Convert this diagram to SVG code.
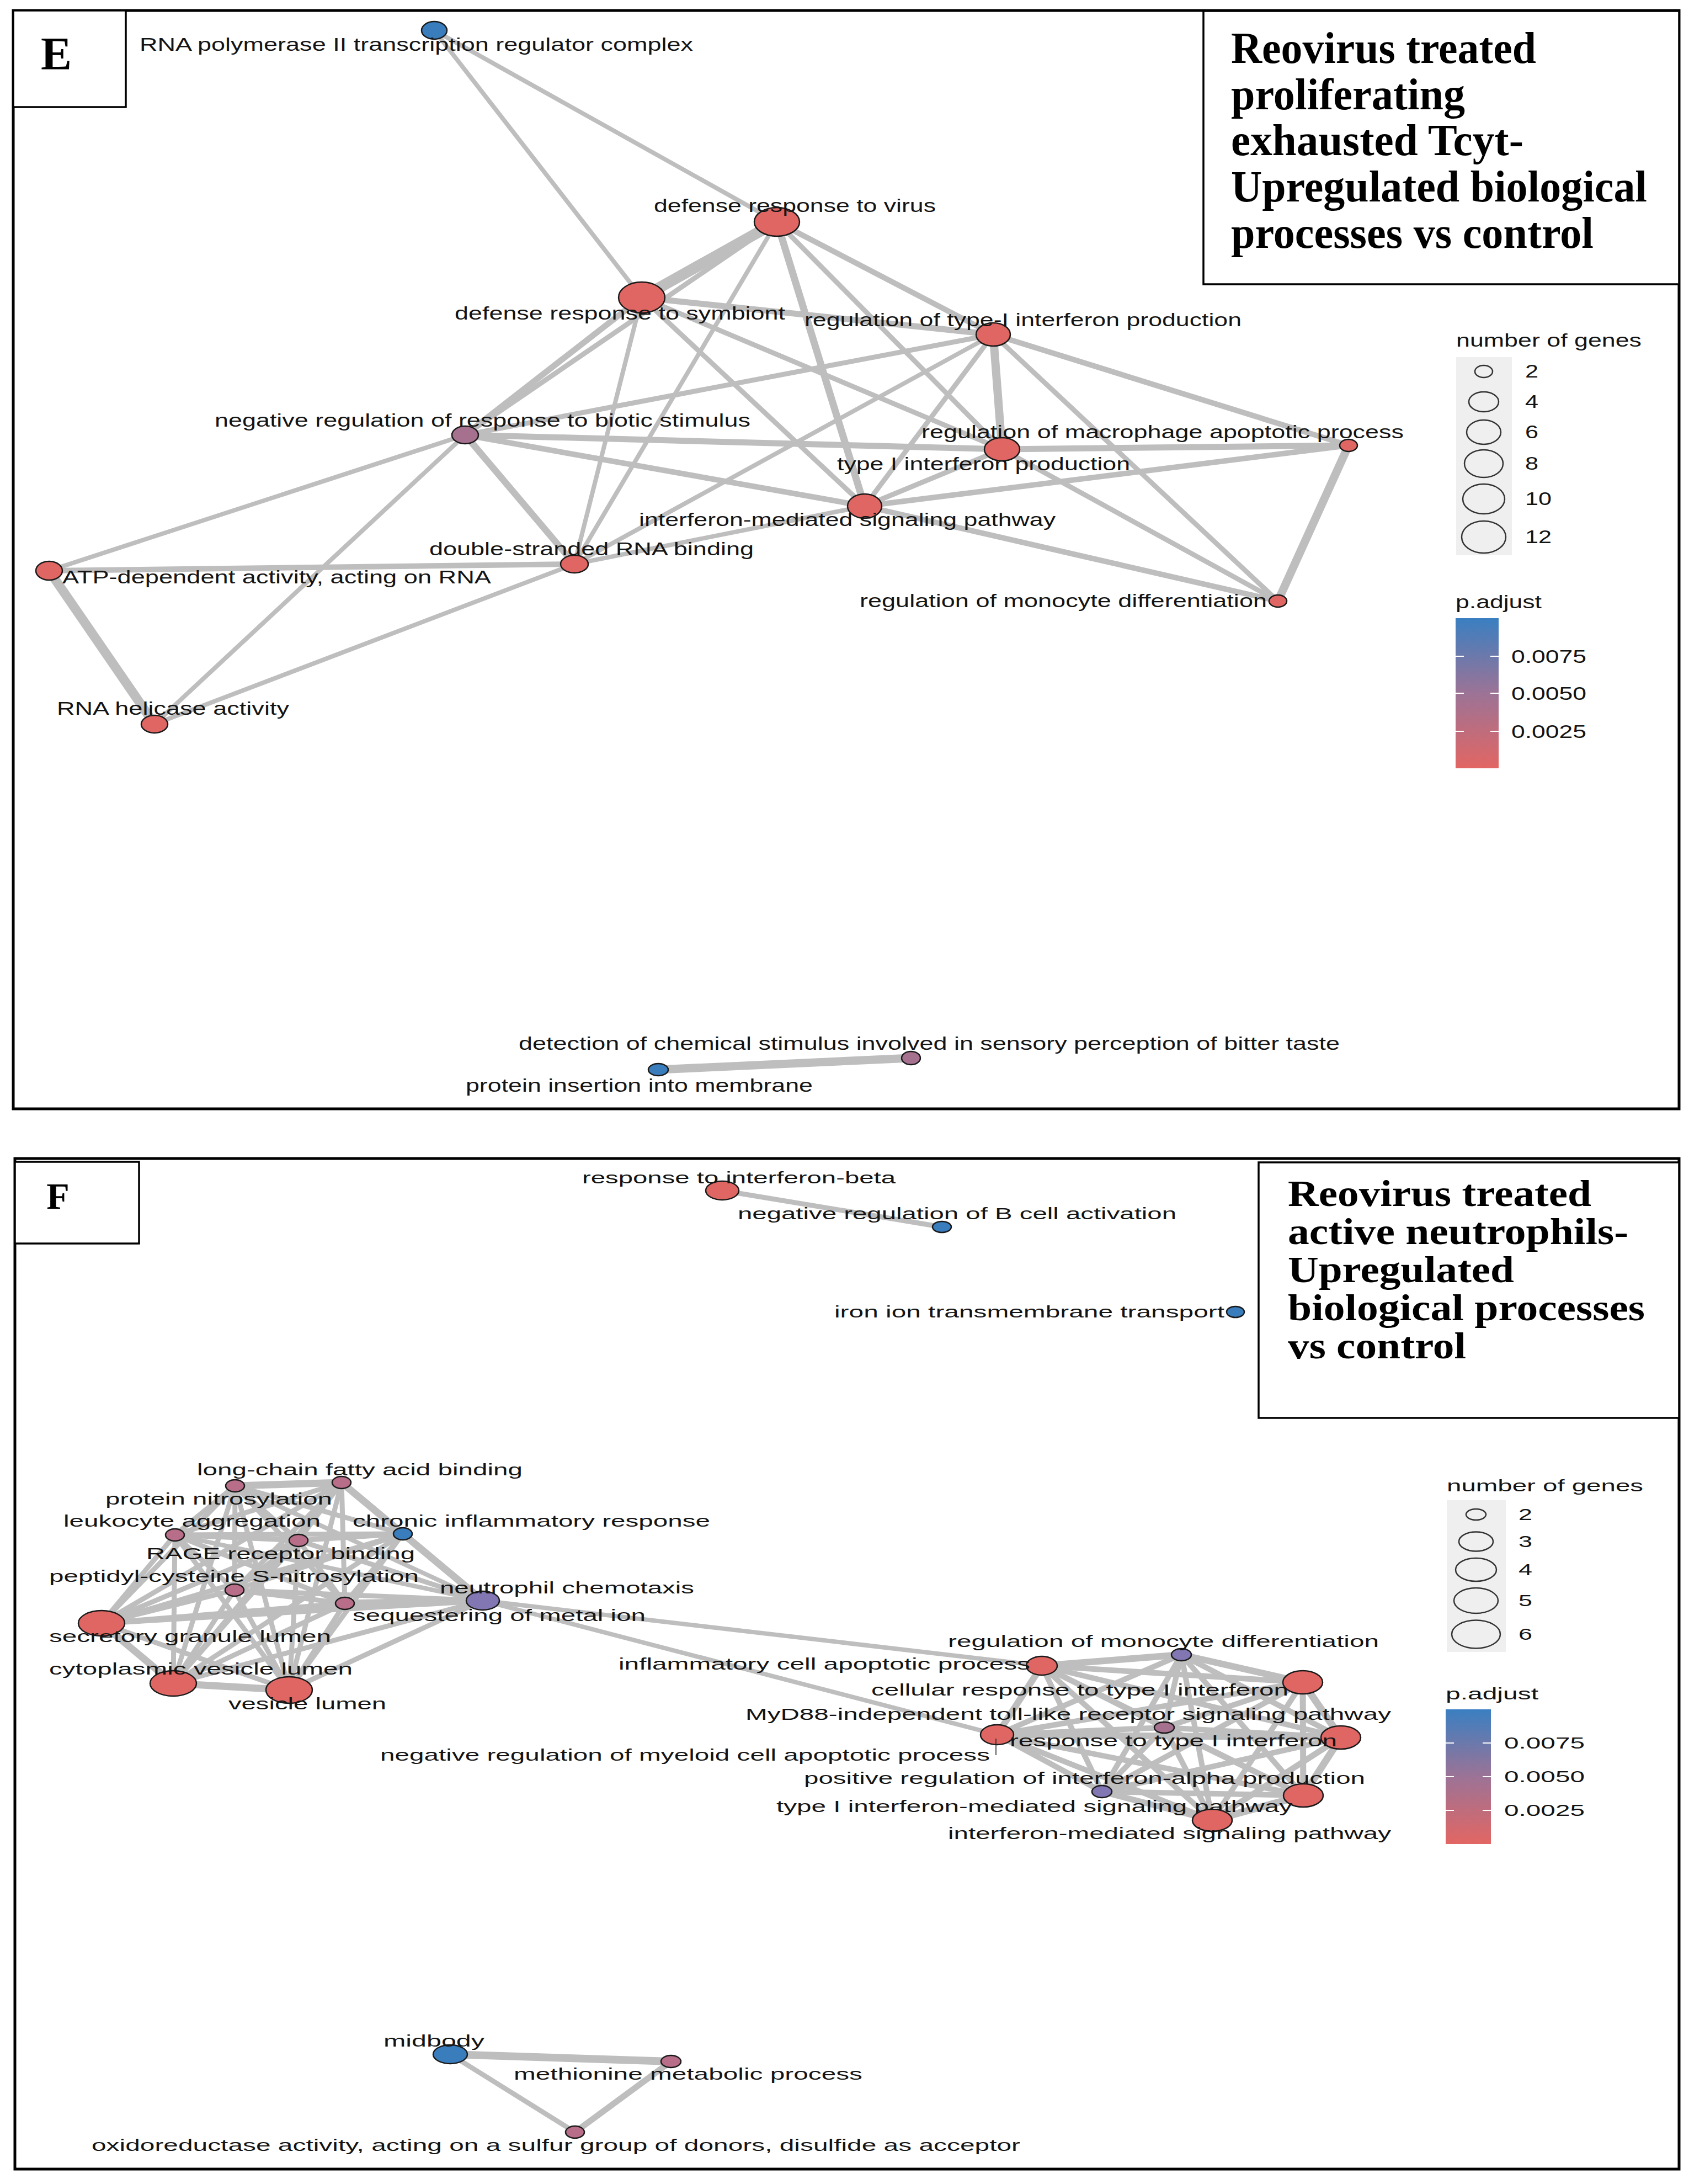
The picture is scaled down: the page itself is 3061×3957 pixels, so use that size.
<svg xmlns="http://www.w3.org/2000/svg" width="3061" height="3957" viewBox="0 0 3061 3957">
<style>
.bg{fill:#ffffff}
.frame{fill:none;stroke:#000;stroke-width:5}
.box{fill:#fff;stroke:#000;stroke-width:3.5}
.c{stroke:#BEBEBE;stroke-linecap:round;fill:none}
.n{stroke:#1a1a1a;stroke-width:2.5}
.red{fill:#E06663}
.blue{fill:#3A7DBD}
.pb{fill:#8277B3}
.mv{fill:#B86D89}
.mv2{fill:#A6708F}
.t{font-family:"Liberation Sans",Arial,sans-serif;fill:#141414}
.e{font-size:33px}
.f{font-size:29px}
.ttl{font-family:"Liberation Serif","Times New Roman",serif;font-weight:bold;fill:#000}
.lg{fill:#EFEFEF}
.lc{fill:none;stroke:#333;stroke-width:2.5}
.tick{stroke:#fff;stroke-width:2}
</style>
<defs>
<linearGradient id="pgrad" x1="0" y1="0" x2="0" y2="1">
<stop offset="0" stop-color="#3A7FC1"/>
<stop offset="0.5" stop-color="#9C7396"/>
<stop offset="1" stop-color="#E26663"/>
</linearGradient>
</defs>
<rect class="bg" x="0" y="0" width="3061" height="3957"/>

<!-- ================= PANEL E ================= -->
<g id="panel-E">
<rect class="frame" x="24" y="19" width="3019" height="1990"/>
<g id="E-letter-box"><rect class="box" x="24" y="19" width="204" height="175"/>
<text class="ttl" x="102" y="126" font-size="84" text-anchor="middle">E</text></g>
<g id="E-title">
<rect class="box" x="2181" y="20" width="862" height="495"/>
<text class="ttl" font-size="80" x="2231" y="114" textLength="553" lengthAdjust="spacingAndGlyphs">Reovirus treated</text>
<text class="ttl" font-size="80" x="2231" y="198" textLength="424" lengthAdjust="spacingAndGlyphs">proliferating</text>
<text class="ttl" font-size="80" x="2231" y="281" textLength="530" lengthAdjust="spacingAndGlyphs">exhausted Tcyt-</text>
<text class="ttl" font-size="80" x="2231" y="365" textLength="754" lengthAdjust="spacingAndGlyphs">Upregulated biological</text>
<text class="ttl" font-size="80" x="2231" y="449" textLength="657" lengthAdjust="spacingAndGlyphs">processes vs control</text>
</g>

<g id="E-connectors">
<line class="c" stroke-width="8" x1="787" y1="55" x2="1408" y2="402"/>
<line class="c" stroke-width="8" x1="787" y1="55" x2="1163" y2="539"/>
<line class="c" stroke-width="20" x1="1408" y1="402" x2="1163" y2="539"/>
<line class="c" stroke-width="9" x1="1408" y1="402" x2="843" y2="788"/>
<line class="c" stroke-width="11" x1="1163" y1="539" x2="843" y2="788"/>
<line class="c" stroke-width="8" x1="1408" y1="402" x2="1041" y2="1022"/>
<line class="c" stroke-width="8" x1="1163" y1="539" x2="1041" y2="1022"/>
<line class="c" stroke-width="13" x1="1408" y1="402" x2="1567" y2="917"/>
<line class="c" stroke-width="9" x1="1408" y1="402" x2="1816" y2="814"/>
<line class="c" stroke-width="10" x1="1408" y1="402" x2="1800" y2="606"/>
<line class="c" stroke-width="11" x1="1163" y1="539" x2="1800" y2="606"/>
<line class="c" stroke-width="9" x1="1163" y1="539" x2="1567" y2="917"/>
<line class="c" stroke-width="9" x1="1163" y1="539" x2="1816" y2="814"/>
<line class="c" stroke-width="9" x1="1800" y1="606" x2="843" y2="788"/>
<line class="c" stroke-width="8" x1="1800" y1="606" x2="1041" y2="1022"/>
<line class="c" stroke-width="9" x1="1800" y1="606" x2="1567" y2="917"/>
<line class="c" stroke-width="15" x1="1800" y1="606" x2="1816" y2="814"/>
<line class="c" stroke-width="10" x1="1800" y1="606" x2="2444" y2="807"/>
<line class="c" stroke-width="9" x1="1800" y1="606" x2="2316" y2="1089"/>
<line class="c" stroke-width="11" x1="843" y1="788" x2="1816" y2="814"/>
<line class="c" stroke-width="10" x1="843" y1="788" x2="1567" y2="917"/>
<line class="c" stroke-width="12" x1="843" y1="788" x2="1041" y2="1022"/>
<line class="c" stroke-width="8" x1="843" y1="788" x2="89" y2="1034"/>
<line class="c" stroke-width="8" x1="843" y1="788" x2="280" y2="1312"/>
<line class="c" stroke-width="11" x1="1816" y1="814" x2="2444" y2="807"/>
<line class="c" stroke-width="9" x1="1816" y1="814" x2="1567" y2="917"/>
<line class="c" stroke-width="9" x1="1816" y1="814" x2="2316" y2="1089"/>
<line class="c" stroke-width="10" x1="1567" y1="917" x2="2444" y2="807"/>
<line class="c" stroke-width="10" x1="1567" y1="917" x2="2316" y2="1089"/>
<line class="c" stroke-width="8" x1="1567" y1="917" x2="1041" y2="1022"/>
<line class="c" stroke-width="15" x1="2444" y1="807" x2="2316" y2="1089"/>
<line class="c" stroke-width="10" x1="89" y1="1034" x2="1041" y2="1022"/>
<line class="c" stroke-width="17" x1="89" y1="1034" x2="280" y2="1312"/>
<line class="c" stroke-width="8" x1="280" y1="1312" x2="1041" y2="1022"/>
<line class="c" stroke-width="15" x1="1193" y1="1938" x2="1651" y2="1917"/>
</g>

<g id="E-node-rnapol"><ellipse class="n blue" cx="787" cy="55" rx="23" ry="16"/>
<text class="t e" x="253" y="92" textLength="1003" lengthAdjust="spacingAndGlyphs">RNA polymerase II transcription regulator complex</text></g>
<g id="E-node-virus"><ellipse class="n red" cx="1408" cy="402" rx="41" ry="26"/>
<text class="t e" x="1185" y="384" textLength="511" lengthAdjust="spacingAndGlyphs">defense response to virus</text></g>
<g id="E-node-symbiont"><ellipse class="n red" cx="1163" cy="539" rx="42" ry="28"/>
<text class="t e" x="824" y="579" textLength="599" lengthAdjust="spacingAndGlyphs">defense response to symbiont</text></g>
<g id="E-node-regtype1"><ellipse class="n red" cx="1800" cy="606" rx="31" ry="21"/>
<text class="t e" x="1458" y="591" textLength="792" lengthAdjust="spacingAndGlyphs">regulation of type-I interferon production</text></g>
<g id="E-node-negreg"><ellipse class="n mv2" cx="843" cy="788" rx="24" ry="16"/>
<text class="t e" x="389" y="773" textLength="971" lengthAdjust="spacingAndGlyphs">negative regulation of response to biotic stimulus</text></g>
<g id="E-node-type1prod"><ellipse class="n red" cx="1816" cy="814" rx="32" ry="21"/>
<text class="t e" x="1517" y="852" textLength="531" lengthAdjust="spacingAndGlyphs">type I interferon production</text></g>
<g id="E-node-macrophage"><ellipse class="n red" cx="2444" cy="807" rx="16" ry="11"/>
<text class="t e" x="1670" y="794" textLength="874" lengthAdjust="spacingAndGlyphs">regulation of macrophage apoptotic process</text></g>
<g id="E-node-ifnsig"><ellipse class="n red" cx="1567" cy="917" rx="31" ry="22"/>
<text class="t e" x="1158" y="953" textLength="755" lengthAdjust="spacingAndGlyphs">interferon-mediated signaling pathway</text></g>
<g id="E-node-dsrna"><ellipse class="n red" cx="1041" cy="1022" rx="25" ry="16"/>
<text class="t e" x="778" y="1006" textLength="588" lengthAdjust="spacingAndGlyphs">double-stranded RNA binding</text></g>
<g id="E-node-atp"><ellipse class="n red" cx="89" cy="1034" rx="24" ry="17"/>
<text class="t e" x="113" y="1057" textLength="777" lengthAdjust="spacingAndGlyphs">ATP-dependent activity, acting on RNA</text></g>
<g id="E-node-helicase"><ellipse class="n red" cx="280" cy="1312" rx="24" ry="16"/>
<text class="t e" x="103" y="1295" textLength="421" lengthAdjust="spacingAndGlyphs">RNA helicase activity</text></g>
<g id="E-node-monocyte"><ellipse class="n red" cx="2316" cy="1089" rx="16" ry="11"/>
<text class="t e" x="1558" y="1100" textLength="738" lengthAdjust="spacingAndGlyphs">regulation of monocyte differentiation</text></g>
<g id="E-node-insertion"><ellipse class="n blue" cx="1193" cy="1938" rx="18" ry="11"/>
<text class="t e" x="844" y="1978" textLength="629" lengthAdjust="spacingAndGlyphs">protein insertion into membrane</text></g>
<g id="E-node-bitter"><ellipse class="n mv2" cx="1651" cy="1917" rx="17" ry="12"/>
<text class="t e" x="940" y="1902" textLength="1488" lengthAdjust="spacingAndGlyphs">detection of chemical stimulus involved in sensory perception of bitter taste</text></g>

<g id="E-legend-size">
<text class="t e" x="2639" y="628" textLength="336" lengthAdjust="spacingAndGlyphs">number of genes</text>
<rect class="lg" x="2639" y="647" width="101" height="359"/>
<ellipse class="lc" cx="2689" cy="673" rx="16" ry="11"/>
<ellipse class="lc" cx="2689" cy="728" rx="27" ry="18"/>
<ellipse class="lc" cx="2689" cy="783" rx="31" ry="22"/>
<ellipse class="lc" cx="2689" cy="840" rx="35" ry="25"/>
<ellipse class="lc" cx="2689" cy="904" rx="38" ry="27"/>
<ellipse class="lc" cx="2689" cy="973" rx="40" ry="29"/>
<text class="t e" x="2764" y="684" textLength="24" lengthAdjust="spacingAndGlyphs">2</text>
<text class="t e" x="2764" y="739" textLength="24" lengthAdjust="spacingAndGlyphs">4</text>
<text class="t e" x="2764" y="794" textLength="24" lengthAdjust="spacingAndGlyphs">6</text>
<text class="t e" x="2764" y="851" textLength="24" lengthAdjust="spacingAndGlyphs">8</text>
<text class="t e" x="2764" y="915" textLength="48" lengthAdjust="spacingAndGlyphs">10</text>
<text class="t e" x="2764" y="984" textLength="48" lengthAdjust="spacingAndGlyphs">12</text>
</g>
<g id="E-legend-color">
<text class="t e" x="2638" y="1102" textLength="156" lengthAdjust="spacingAndGlyphs">p.adjust</text>
<rect x="2638" y="1120" width="78" height="272" fill="url(#pgrad)"/>
<line class="tick" x1="2638" y1="1189" x2="2653" y2="1189"/><line class="tick" x1="2701" y1="1189" x2="2716" y2="1189"/>
<line class="tick" x1="2638" y1="1256" x2="2653" y2="1256"/><line class="tick" x1="2701" y1="1256" x2="2716" y2="1256"/>
<line class="tick" x1="2638" y1="1325" x2="2653" y2="1325"/><line class="tick" x1="2701" y1="1325" x2="2716" y2="1325"/>
<text class="t e" x="2739" y="1201" textLength="136" lengthAdjust="spacingAndGlyphs">0.0075</text>
<text class="t e" x="2739" y="1268" textLength="136" lengthAdjust="spacingAndGlyphs">0.0050</text>
<text class="t e" x="2739" y="1337" textLength="136" lengthAdjust="spacingAndGlyphs">0.0025</text>
</g>
</g>

<!-- ================= PANEL F ================= -->
<g id="panel-F">
<rect class="frame" x="27" y="2099" width="3016" height="1831"/>
<g id="F-letter-box"><rect class="box" x="27" y="2105" width="225" height="148"/>
<text class="ttl" x="105" y="2190" font-size="68" text-anchor="middle">F</text></g>
<g id="F-title">
<rect class="box" x="2281" y="2106" width="762" height="463"/>
<text class="ttl" font-size="68" x="2334" y="2185" textLength="550" lengthAdjust="spacingAndGlyphs">Reovirus treated</text>
<text class="ttl" font-size="68" x="2334" y="2254" textLength="617" lengthAdjust="spacingAndGlyphs">active neutrophils-</text>
<text class="ttl" font-size="68" x="2334" y="2323" textLength="410" lengthAdjust="spacingAndGlyphs">Upregulated</text>
<text class="ttl" font-size="68" x="2334" y="2392" textLength="647" lengthAdjust="spacingAndGlyphs">biological processes</text>
<text class="ttl" font-size="68" x="2334" y="2461" textLength="323" lengthAdjust="spacingAndGlyphs">vs control</text>
</g>

<g id="F-connectors">
<line class="c" stroke-width="9" x1="1309" y1="2157" x2="1707" y2="2223"/>
<line class="c" stroke-width="8" x1="875" y1="2900" x2="1888" y2="3018"/>
<line class="c" stroke-width="8" x1="875" y1="2900" x2="1807" y2="3143"/>
<!-- left cluster -->
<line class="c" stroke-width="13" x1="426" y1="2692" x2="619" y2="2686"/>
<line class="c" stroke-width="9" x1="426" y1="2692" x2="317" y2="2781"/>
<line class="c" stroke-width="9" x1="426" y1="2692" x2="541" y2="2791"/>
<line class="c" stroke-width="9" x1="426" y1="2692" x2="730" y2="2779"/>
<line class="c" stroke-width="9" x1="426" y1="2692" x2="425" y2="2881"/>
<line class="c" stroke-width="9" x1="426" y1="2692" x2="625" y2="2905"/>
<line class="c" stroke-width="8" x1="426" y1="2692" x2="875" y2="2900"/>
<line class="c" stroke-width="9" x1="426" y1="2692" x2="184" y2="2941"/>
<line class="c" stroke-width="9" x1="426" y1="2692" x2="314" y2="3050"/>
<line class="c" stroke-width="9" x1="426" y1="2692" x2="524" y2="3062"/>
<line class="c" stroke-width="9" x1="619" y1="2686" x2="317" y2="2781"/>
<line class="c" stroke-width="9" x1="619" y1="2686" x2="541" y2="2791"/>
<line class="c" stroke-width="9" x1="619" y1="2686" x2="730" y2="2779"/>
<line class="c" stroke-width="9" x1="619" y1="2686" x2="425" y2="2881"/>
<line class="c" stroke-width="9" x1="619" y1="2686" x2="625" y2="2905"/>
<line class="c" stroke-width="13" x1="619" y1="2686" x2="875" y2="2900"/>
<line class="c" stroke-width="9" x1="619" y1="2686" x2="184" y2="2941"/>
<line class="c" stroke-width="9" x1="619" y1="2686" x2="314" y2="3050"/>
<line class="c" stroke-width="9" x1="619" y1="2686" x2="524" y2="3062"/>
<line class="c" stroke-width="9" x1="317" y1="2781" x2="541" y2="2791"/>
<line class="c" stroke-width="9" x1="317" y1="2781" x2="730" y2="2779"/>
<line class="c" stroke-width="9" x1="317" y1="2781" x2="425" y2="2881"/>
<line class="c" stroke-width="9" x1="317" y1="2781" x2="625" y2="2905"/>
<line class="c" stroke-width="8" x1="317" y1="2781" x2="875" y2="2900"/>
<line class="c" stroke-width="9" x1="317" y1="2781" x2="184" y2="2941"/>
<line class="c" stroke-width="9" x1="317" y1="2781" x2="314" y2="3050"/>
<line class="c" stroke-width="9" x1="317" y1="2781" x2="524" y2="3062"/>
<line class="c" stroke-width="9" x1="541" y1="2791" x2="730" y2="2779"/>
<line class="c" stroke-width="9" x1="541" y1="2791" x2="425" y2="2881"/>
<line class="c" stroke-width="9" x1="541" y1="2791" x2="625" y2="2905"/>
<line class="c" stroke-width="9" x1="541" y1="2791" x2="875" y2="2900"/>
<line class="c" stroke-width="9" x1="541" y1="2791" x2="184" y2="2941"/>
<line class="c" stroke-width="9" x1="541" y1="2791" x2="314" y2="3050"/>
<line class="c" stroke-width="9" x1="541" y1="2791" x2="524" y2="3062"/>
<line class="c" stroke-width="9" x1="730" y1="2779" x2="425" y2="2881"/>
<line class="c" stroke-width="9" x1="730" y1="2779" x2="625" y2="2905"/>
<line class="c" stroke-width="11" x1="730" y1="2779" x2="875" y2="2900"/>
<line class="c" stroke-width="9" x1="730" y1="2779" x2="184" y2="2941"/>
<line class="c" stroke-width="9" x1="730" y1="2779" x2="314" y2="3050"/>
<line class="c" stroke-width="9" x1="730" y1="2779" x2="524" y2="3062"/>
<line class="c" stroke-width="9" x1="425" y1="2881" x2="625" y2="2905"/>
<line class="c" stroke-width="9" x1="425" y1="2881" x2="875" y2="2900"/>
<line class="c" stroke-width="9" x1="425" y1="2881" x2="184" y2="2941"/>
<line class="c" stroke-width="9" x1="425" y1="2881" x2="314" y2="3050"/>
<line class="c" stroke-width="9" x1="425" y1="2881" x2="524" y2="3062"/>
<line class="c" stroke-width="13" x1="625" y1="2905" x2="875" y2="2900"/>
<line class="c" stroke-width="9" x1="625" y1="2905" x2="184" y2="2941"/>
<line class="c" stroke-width="9" x1="625" y1="2905" x2="314" y2="3050"/>
<line class="c" stroke-width="9" x1="625" y1="2905" x2="524" y2="3062"/>
<line class="c" stroke-width="10" x1="875" y1="2900" x2="184" y2="2941"/>
<line class="c" stroke-width="9" x1="875" y1="2900" x2="314" y2="3050"/>
<line class="c" stroke-width="9" x1="875" y1="2900" x2="524" y2="3062"/>
<line class="c" stroke-width="13" x1="184" y1="2941" x2="314" y2="3050"/>
<line class="c" stroke-width="9" x1="184" y1="2941" x2="524" y2="3062"/>
<line class="c" stroke-width="13" x1="314" y1="3050" x2="524" y2="3062"/>
<!-- right cluster -->
<line class="c" stroke-width="12" x1="1888" y1="3018" x2="2141" y2="2998"/>
<line class="c" stroke-width="10" x1="1888" y1="3018" x2="2361" y2="3048"/>
<line class="c" stroke-width="10" x1="1888" y1="3018" x2="2110" y2="3130"/>
<line class="c" stroke-width="12" x1="1888" y1="3018" x2="1807" y2="3143"/>
<line class="c" stroke-width="10" x1="1888" y1="3018" x2="2430" y2="3148"/>
<line class="c" stroke-width="10" x1="1888" y1="3018" x2="1997" y2="3246"/>
<line class="c" stroke-width="10" x1="1888" y1="3018" x2="2362" y2="3253"/>
<line class="c" stroke-width="10" x1="1888" y1="3018" x2="2197" y2="3298"/>
<line class="c" stroke-width="12" x1="2141" y1="2998" x2="2361" y2="3048"/>
<line class="c" stroke-width="10" x1="2141" y1="2998" x2="2110" y2="3130"/>
<line class="c" stroke-width="10" x1="2141" y1="2998" x2="1807" y2="3143"/>
<line class="c" stroke-width="10" x1="2141" y1="2998" x2="2430" y2="3148"/>
<line class="c" stroke-width="10" x1="2141" y1="2998" x2="1997" y2="3246"/>
<line class="c" stroke-width="10" x1="2141" y1="2998" x2="2362" y2="3253"/>
<line class="c" stroke-width="10" x1="2141" y1="2998" x2="2197" y2="3298"/>
<line class="c" stroke-width="10" x1="2361" y1="3048" x2="2110" y2="3130"/>
<line class="c" stroke-width="10" x1="2361" y1="3048" x2="1807" y2="3143"/>
<line class="c" stroke-width="13" x1="2361" y1="3048" x2="2430" y2="3148"/>
<line class="c" stroke-width="10" x1="2361" y1="3048" x2="1997" y2="3246"/>
<line class="c" stroke-width="11" x1="2361" y1="3048" x2="2362" y2="3253"/>
<line class="c" stroke-width="10" x1="2361" y1="3048" x2="2197" y2="3298"/>
<line class="c" stroke-width="10" x1="2110" y1="3130" x2="1807" y2="3143"/>
<line class="c" stroke-width="10" x1="2110" y1="3130" x2="2430" y2="3148"/>
<line class="c" stroke-width="10" x1="2110" y1="3130" x2="1997" y2="3246"/>
<line class="c" stroke-width="10" x1="2110" y1="3130" x2="2362" y2="3253"/>
<line class="c" stroke-width="10" x1="2110" y1="3130" x2="2197" y2="3298"/>
<line class="c" stroke-width="12" x1="1807" y1="3143" x2="2430" y2="3148"/>
<line class="c" stroke-width="10" x1="1807" y1="3143" x2="1997" y2="3246"/>
<line class="c" stroke-width="10" x1="1807" y1="3143" x2="2362" y2="3253"/>
<line class="c" stroke-width="10" x1="1807" y1="3143" x2="2197" y2="3298"/>
<line class="c" stroke-width="10" x1="2430" y1="3148" x2="1997" y2="3246"/>
<line class="c" stroke-width="13" x1="2430" y1="3148" x2="2362" y2="3253"/>
<line class="c" stroke-width="11" x1="2430" y1="3148" x2="2197" y2="3298"/>
<line class="c" stroke-width="10" x1="1997" y1="3246" x2="2362" y2="3253"/>
<line class="c" stroke-width="11" x1="1997" y1="3246" x2="2197" y2="3298"/>
<line class="c" stroke-width="13" x1="2362" y1="3253" x2="2197" y2="3298"/>
<!-- bottom triangle -->
<line class="c" stroke-width="14" x1="816" y1="3722" x2="1216" y2="3735"/>
<line class="c" stroke-width="9" x1="816" y1="3722" x2="1042" y2="3863"/>
<line class="c" stroke-width="11" x1="1216" y1="3735" x2="1042" y2="3863"/>
</g>

<g id="F-node-ifnbeta"><ellipse class="n red" cx="1309" cy="2157" rx="30" ry="17"/>
<text class="t f" x="1055" y="2144" textLength="568" lengthAdjust="spacingAndGlyphs">response to interferon-beta</text></g>
<g id="F-node-bcell"><ellipse class="n blue" cx="1707" cy="2223" rx="17" ry="10"/>
<text class="t f" x="1337" y="2209" textLength="795" lengthAdjust="spacingAndGlyphs">negative regulation of B cell activation</text></g>
<g id="F-node-iron"><ellipse class="n blue" cx="2239" cy="2377" rx="16" ry="10"/>
<text class="t f" x="1512" y="2387" textLength="707" lengthAdjust="spacingAndGlyphs">iron ion transmembrane transport</text></g>

<g id="F-node-protnitro"><ellipse class="n mv" cx="426" cy="2692" rx="17" ry="11"/>
<text class="t f" x="191" y="2726" textLength="411" lengthAdjust="spacingAndGlyphs">protein nitrosylation</text></g>
<g id="F-node-lcfa"><ellipse class="n mv" cx="619" cy="2686" rx="17" ry="11"/>
<text class="t f" x="357" y="2673" textLength="590" lengthAdjust="spacingAndGlyphs">long-chain fatty acid binding</text></g>
<g id="F-node-leuko"><ellipse class="n mv" cx="317" cy="2781" rx="17" ry="11"/>
<text class="t f" x="115" y="2766" textLength="466" lengthAdjust="spacingAndGlyphs">leukocyte aggregation</text></g>
<g id="F-node-rage"><ellipse class="n mv" cx="541" cy="2791" rx="17" ry="11"/>
<text class="t f" x="265" y="2825" textLength="487" lengthAdjust="spacingAndGlyphs">RAGE receptor binding</text></g>
<g id="F-node-chronic"><ellipse class="n blue" cx="730" cy="2779" rx="17" ry="11"/>
<text class="t f" x="639" y="2766" textLength="648" lengthAdjust="spacingAndGlyphs">chronic inflammatory response</text></g>
<g id="F-node-peptidyl"><ellipse class="n mv" cx="425" cy="2881" rx="17" ry="11"/>
<text class="t f" x="89" y="2866" textLength="670" lengthAdjust="spacingAndGlyphs">peptidyl-cysteine S-nitrosylation</text></g>
<g id="F-node-seq"><ellipse class="n mv" cx="625" cy="2905" rx="17" ry="11"/>
<text class="t f" x="639" y="2937" textLength="531" lengthAdjust="spacingAndGlyphs">sequestering of metal ion</text></g>
<g id="F-node-neutro"><ellipse class="n pb" cx="875" cy="2900" rx="30" ry="17"/>
<text class="t f" x="797" y="2887" textLength="461" lengthAdjust="spacingAndGlyphs">neutrophil chemotaxis</text></g>
<g id="F-node-secretory"><ellipse class="n red" cx="184" cy="2941" rx="42" ry="23"/>
<text class="t f" x="89" y="2975" textLength="511" lengthAdjust="spacingAndGlyphs">secretory granule lumen</text></g>
<g id="F-node-cytoves"><ellipse class="n red" cx="314" cy="3050" rx="42" ry="23"/>
<text class="t f" x="89" y="3034" textLength="550" lengthAdjust="spacingAndGlyphs">cytoplasmic vesicle lumen</text></g>
<g id="F-node-vesicle"><ellipse class="n red" cx="524" cy="3062" rx="42" ry="24"/>
<text class="t f" x="414" y="3097" textLength="286" lengthAdjust="spacingAndGlyphs">vesicle lumen</text></g>

<g id="F-node-icap"><ellipse class="n red" cx="1888" cy="3018" rx="28" ry="17"/>
<text class="t f" x="1121" y="3025" textLength="746" lengthAdjust="spacingAndGlyphs">inflammatory cell apoptotic process</text></g>
<g id="F-node-monocyte"><ellipse class="n pb" cx="2141" cy="2998" rx="18" ry="11"/>
<text class="t f" x="1718" y="2984" textLength="781" lengthAdjust="spacingAndGlyphs">regulation of monocyte differentiation</text></g>
<g id="F-node-cellresp"><ellipse class="n red" cx="2361" cy="3048" rx="36" ry="21"/>
<text class="t f" x="1579" y="3072" textLength="756" lengthAdjust="spacingAndGlyphs">cellular response to type I interferon</text></g>
<g id="F-node-myd88"><ellipse class="n mv2" cx="2110" cy="3130" rx="18" ry="10"/>
<text class="t f" x="1351" y="3116" textLength="1170" lengthAdjust="spacingAndGlyphs">MyD88-independent toll-like receptor signaling pathway</text></g>
<g id="F-node-myeloid"><ellipse class="n red" cx="1807" cy="3143" rx="30" ry="18"/>
<line x1="1805" y1="3150" x2="1805" y2="3180" stroke="#222" stroke-width="1.5"/>
<text class="t f" x="689" y="3190" textLength="1105" lengthAdjust="spacingAndGlyphs">negative regulation of myeloid cell apoptotic process</text></g>
<g id="F-node-resp1"><ellipse class="n red" cx="2430" cy="3148" rx="36" ry="21"/>
<text class="t f" x="1830" y="3164" textLength="593" lengthAdjust="spacingAndGlyphs">response to type I interferon</text></g>
<g id="F-node-alpha"><ellipse class="n pb" cx="1997" cy="3246" rx="18" ry="11"/>
<text class="t f" x="1457" y="3232" textLength="1017" lengthAdjust="spacingAndGlyphs">positive regulation of interferon-alpha production</text></g>
<g id="F-node-t1sig"><ellipse class="n red" cx="2362" cy="3253" rx="36" ry="21"/>
<text class="t f" x="1407" y="3283" textLength="935" lengthAdjust="spacingAndGlyphs">type I interferon-mediated signaling pathway</text></g>
<g id="F-node-ifnsig"><ellipse class="n red" cx="2197" cy="3298" rx="36" ry="20"/>
<text class="t f" x="1718" y="3332" textLength="803" lengthAdjust="spacingAndGlyphs">interferon-mediated signaling pathway</text></g>

<g id="F-node-midbody"><ellipse class="n blue" cx="816" cy="3722" rx="31" ry="17"/>
<text class="t f" x="695" y="3708" textLength="183" lengthAdjust="spacingAndGlyphs">midbody</text></g>
<g id="F-node-methionine"><ellipse class="n mv" cx="1216" cy="3735" rx="18" ry="11"/>
<text class="t f" x="931" y="3768" textLength="632" lengthAdjust="spacingAndGlyphs">methionine metabolic process</text></g>
<g id="F-node-oxido"><ellipse class="n mv" cx="1042" cy="3863" rx="17" ry="11"/>
<text class="t f" x="166" y="3897" textLength="1683" lengthAdjust="spacingAndGlyphs">oxidoreductase activity, acting on a sulfur group of donors, disulfide as acceptor</text></g>

<g id="F-legend-size">
<text class="t f" x="2622" y="2702" textLength="356" lengthAdjust="spacingAndGlyphs">number of genes</text>
<rect class="lg" x="2622" y="2718" width="107" height="275"/>
<ellipse class="lc" cx="2675" cy="2744" rx="18" ry="10"/>
<ellipse class="lc" cx="2675" cy="2793" rx="31" ry="17.5"/>
<ellipse class="lc" cx="2675" cy="2844" rx="37" ry="21"/>
<ellipse class="lc" cx="2675" cy="2900" rx="40" ry="23"/>
<ellipse class="lc" cx="2675" cy="2961" rx="44" ry="25.5"/>
<text class="t f" x="2752" y="2754" textLength="25" lengthAdjust="spacingAndGlyphs">2</text>
<text class="t f" x="2752" y="2803" textLength="25" lengthAdjust="spacingAndGlyphs">3</text>
<text class="t f" x="2752" y="2854" textLength="25" lengthAdjust="spacingAndGlyphs">4</text>
<text class="t f" x="2752" y="2910" textLength="25" lengthAdjust="spacingAndGlyphs">5</text>
<text class="t f" x="2752" y="2971" textLength="25" lengthAdjust="spacingAndGlyphs">6</text>
</g>
<g id="F-legend-color">
<text class="t f" x="2620" y="3079" textLength="168" lengthAdjust="spacingAndGlyphs">p.adjust</text>
<rect x="2620" y="3097" width="82" height="244" fill="url(#pgrad)"/>
<line class="tick" x1="2620" y1="3158" x2="2635" y2="3158"/><line class="tick" x1="2687" y1="3158" x2="2702" y2="3158"/>
<line class="tick" x1="2620" y1="3219" x2="2635" y2="3219"/><line class="tick" x1="2687" y1="3219" x2="2702" y2="3219"/>
<line class="tick" x1="2620" y1="3280" x2="2635" y2="3280"/><line class="tick" x1="2687" y1="3280" x2="2702" y2="3280"/>
<text class="t f" x="2726" y="3168" textLength="146" lengthAdjust="spacingAndGlyphs">0.0075</text>
<text class="t f" x="2726" y="3229" textLength="146" lengthAdjust="spacingAndGlyphs">0.0050</text>
<text class="t f" x="2726" y="3290" textLength="146" lengthAdjust="spacingAndGlyphs">0.0025</text>
</g>
</g>
</svg>
